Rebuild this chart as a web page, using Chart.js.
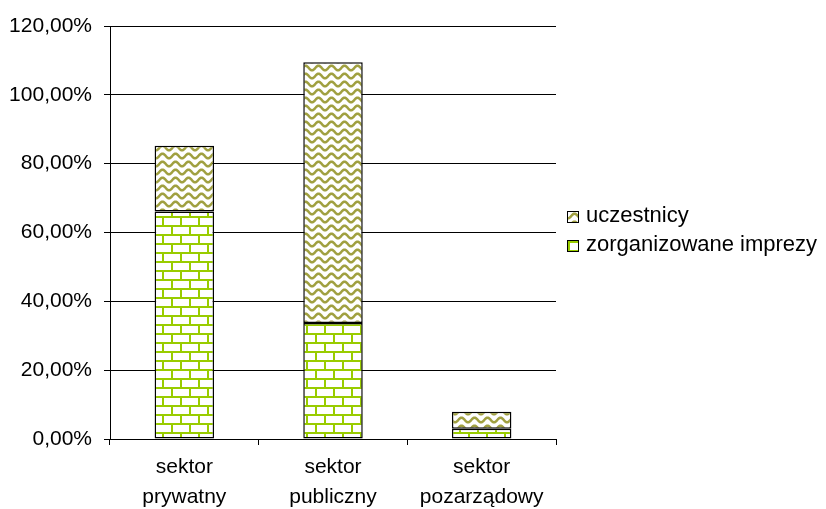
<!DOCTYPE html>
<html>
<head>
<meta charset="utf-8">
<script src="https://cdn.jsdelivr.net/npm/chart.js@4/dist/chart.umd.min.js"></script>
<style>
    html, body { margin: 0; padding: 0; background: #fff; }
    #wrap { position: relative; width: 826px; height: 509px; }
    #legend { position: absolute; left: 567px; top: 200px; font: 22px "Liberation Sans", Arial, sans-serif; color: #000; }
    #legend div { height: 29px; line-height: 29px; white-space: nowrap; }
    #legend span { display: inline-block; width: 10px; height: 10px; border: 1px solid #000; margin-right: 7px; vertical-align: -1px; }
</style>
</head>
<body>
<div id="wrap">
    <canvas id="chart" width="826" height="509"></canvas>
    <div id="legend"></div>
</div>
<script>
var categories = [['sektor', 'prywatny'], ['sektor', 'publiczny'], ['sektor', 'pozarządowy']];
var imprezy = [66.1, 33.7, 3.0];
var uczestnicy = [19.1, 75.8, 4.9];
var seriesNames = ['zorganizowane imprezy', 'uczestnicy'];

// brick pattern (green lines on white)
function brickTile() {
    var c = document.createElement('canvas');
    c.width = 18; c.height = 18;
    var g = c.getContext('2d');
    g.fillStyle = '#fff';
    g.fillRect(0, 0, 18, 18);
    g.fillStyle = '#99cc00';
    g.fillRect(0, 0, 18, 2);
    g.fillRect(0, 9, 18, 2);
    g.fillRect(0, 0, 2, 9);
    g.fillRect(9, 9, 2, 9);
    return c;
}

// wavy pattern (olive on white)
function waveTile() {
    var c = document.createElement('canvas');
    c.width = 13; c.height = 8;
    var g = c.getContext('2d');
    g.fillStyle = '#fff';
    g.fillRect(0, 0, 13, 8);
    g.strokeStyle = '#a0a040';
    g.lineWidth = 2.5;
    g.beginPath();
    for (var x = -1; x <= 14; x += 0.5) {
        var y = 4 + 2.3 * Math.cos(x / 13 * Math.PI * 2);
        if (x === -1) g.moveTo(x, y); else g.lineTo(x, y);
    }
    g.stroke();
    return c;
}

var ctx = document.getElementById('chart').getContext('2d');
var bricks = brickTile();
var waves = waveTile();
var brickPattern = ctx.createPattern(bricks, 'repeat');
var wavePattern = ctx.createPattern(waves, 'repeat');

function fmt(v) {
    return v.toFixed(2).replace('.', ',') + '%';
}

var labelFont = { family: '"Liberation Sans", Arial', size: 21 };

new Chart(ctx, {
    type: 'bar',
    data: {
        labels: categories,
        datasets: [
            {
                label: seriesNames[0],
                data: imprezy,
                backgroundColor: brickPattern,
                borderColor: '#000',
                borderWidth: 1.5,
                borderSkipped: false
            },
            {
                label: seriesNames[1],
                data: uczestnicy,
                backgroundColor: wavePattern,
                borderColor: '#000',
                borderWidth: 1.5,
                borderSkipped: false
            }
        ]
    },
    options: {
        responsive: false,
        animation: false,
        layout: { padding: { left: 0, top: 26, right: 270, bottom: 0 } },
        plugins: {
            legend: { display: false },
            tooltip: { enabled: false }
        },
        datasets: {
            bar: { categoryPercentage: 1, barPercentage: 0.4 }
        },
        scales: {
            x: {
                stacked: true,
                grid: { drawOnChartArea: false, color: '#000', tickLength: 6, offset: true },
                border: { color: '#000', width: 1 },
                ticks: { color: '#000', font: { family: labelFont.family, size: 21, lineHeight: 1.4 }, padding: 8, maxRotation: 0 },
                afterFit: function(scale) { scale.height = 70; }
            },
            y: {
                stacked: true,
                min: 0,
                max: 120,
                ticks: { stepSize: 20, color: '#000', font: labelFont, padding: 12, callback: fmt },
                grid: { color: '#000', tickLength: 6 },
                border: { color: '#000', width: 1 },
                afterFit: function(scale) { scale.width = 110; }
            }
        }
    }
});

// legend, reversed like the original
var legend = document.getElementById('legend');
[[seriesNames[1], waves], [seriesNames[0], bricks]].forEach(function(item) {
    var row = document.createElement('div');
    var box = document.createElement('span');
    box.style.backgroundImage = 'url(' + item[1].toDataURL() + ')';
    row.appendChild(box);
    row.appendChild(document.createTextNode(item[0]));
    legend.appendChild(row);
});
</script>
</body>
</html>
